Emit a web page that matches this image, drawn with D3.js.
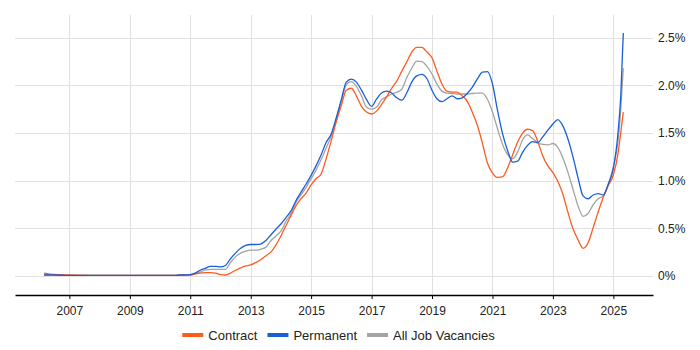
<!DOCTYPE html>
<html>
<head>
<meta charset="utf-8">
<script src="https://cdn.jsdelivr.net/npm/d3@7"></script>
<style>
  html, body { margin: 0; padding: 0; background: #fff; }
  svg { display: block; font-family: Arial, "Liberation Sans", sans-serif; }
</style>
</head>
<body>
<svg id="chart" width="700" height="350"></svg>
<script>
const dates = ["2006-03","2006-07","2007-01","2008-01","2009-01","2010-01",
"2010-07","2010-09","2010-11",
"2011-01","2011-03","2011-05","2011-07","2011-09","2011-11",
"2012-01","2012-03","2012-05","2012-07","2012-09","2012-11",
"2013-01","2013-03","2013-05","2013-07","2013-09","2013-11",
"2014-01","2014-03","2014-05","2014-07","2014-09","2014-11",
"2015-01","2015-03","2015-05","2015-07","2015-09","2015-11",
"2016-01","2016-03","2016-05","2016-07","2016-09","2016-11",
"2017-01","2017-03","2017-05","2017-07","2017-09","2017-11",
"2018-01","2018-03","2018-05","2018-07","2018-09","2018-11",
"2019-01","2019-03","2019-05","2019-07","2019-09","2019-11",
"2020-01","2020-03","2020-05","2020-07","2020-09","2020-11",
"2021-01","2021-03","2021-05","2021-07","2021-09","2021-11",
"2022-01","2022-03","2022-05","2022-07","2022-09","2022-11",
"2023-01","2023-03","2023-05","2023-07","2023-09","2023-11",
"2024-01","2024-03","2024-05","2024-07","2024-09","2024-11",
"2025-01","2025-03","2025-04","2025-05"];

const contract = [0.03,0.015,0.01,0.005,0.005,0.005,
0.005,0.01,0.01,
0.01,0.02,0.03,0.035,0.035,0.03,
0.015,0.01,0.03,0.06,0.085,0.105,
0.115,0.14,0.17,0.21,0.25,0.325,
0.42,0.525,0.63,0.735,0.81,0.87,
0.955,1.02,1.07,1.23,1.42,1.62,
1.79,1.95,1.97,1.89,1.78,1.72,
1.70,1.73,1.80,1.88,1.97,2.045,
2.15,2.245,2.35,2.40,2.40,2.35,
2.29,2.15,2.015,1.94,1.93,1.93,
1.89,1.835,1.72,1.585,1.395,1.185,
1.08,1.035,1.04,1.13,1.27,1.405,
1.50,1.54,1.525,1.415,1.26,1.155,
1.085,0.995,0.86,0.67,0.495,0.38,
0.29,0.345,0.505,0.67,0.825,0.95,
1.06,1.30,1.51,1.72];

const permanent = [0.01,0.01,0.005,0.005,0.005,0.005,
0.005,0.01,0.01,
0.015,0.03,0.06,0.08,0.10,0.10,
0.095,0.11,0.18,0.24,0.29,0.32,
0.33,0.33,0.335,0.37,0.43,0.49,
0.545,0.61,0.68,0.79,0.88,0.965,
1.055,1.155,1.27,1.40,1.49,1.66,
1.85,2.035,2.065,2.035,1.95,1.85,
1.78,1.855,1.92,1.94,1.92,1.87,
1.845,1.92,2.035,2.10,2.115,2.07,
1.95,1.86,1.83,1.86,1.89,1.86,
1.87,1.915,1.98,2.065,2.14,2.145,
2.015,1.745,1.50,1.32,1.195,1.205,
1.30,1.37,1.41,1.40,1.46,1.53,
1.595,1.64,1.575,1.44,1.25,1.03,
0.84,0.81,0.85,0.865,0.85,0.965,
1.13,1.53,1.90,2.55];

const allVacancies = [0.01,0.01,0.005,0.005,0.005,0.005,
0.005,0.01,0.01,
0.01,0.026,0.04,0.06,0.07,0.07,
0.07,0.07,0.14,0.20,0.24,0.26,
0.27,0.27,0.28,0.30,0.37,0.42,
0.47,0.57,0.65,0.77,0.85,0.93,
1.02,1.11,1.22,1.34,1.47,1.64,
1.83,2.01,2.04,1.99,1.89,1.77,
1.75,1.77,1.85,1.88,1.91,1.93,
1.96,2.08,2.18,2.255,2.25,2.20,
2.12,2.015,1.94,1.92,1.915,1.91,
1.91,1.91,1.915,1.92,1.92,1.855,
1.72,1.55,1.385,1.275,1.23,1.30,
1.43,1.48,1.44,1.40,1.38,1.375,
1.39,1.35,1.24,1.09,0.91,0.735,
0.625,0.655,0.745,0.81,0.84,0.965,
1.15,1.43,1.76,2.18];

const yTicks = [0, 0.5, 1.0, 1.5, 2.0, 2.5];
const yTickLabels = ["0%", "0.5%", "1.0%", "1.5%", "2.0%", "2.5%"];
const xTickYears = [2007, 2009, 2011, 2013, 2015, 2017, 2019, 2021, 2023, 2025];
const seriesNames = ["Contract", "Permanent", "All Job Vacancies"];
const seriesColors = ["#ff5a1f", "#1a5fd9", "#a3a3a3"];

const parse = d3.timeParse("%Y-%m");
const svg = d3.select("#chart");
const plotLeft = 15, plotRight = 653, plotTop = 15, plotBottom = 295;

const x = d3.scaleTime()
  .domain([new Date(2005, 2, 15), new Date(2026, 3, 25)])
  .range([plotLeft, plotRight]);
const y = d3.scaleLinear()
  .domain([-0.2, 2.739])
  .range([plotBottom, plotTop]);

// horizontal gridlines
svg.append("g").selectAll("line").data(yTicks).join("line")
  .attr("x1", plotLeft).attr("x2", plotRight)
  .attr("y1", d => Math.round(y(d)) + 0.5).attr("y2", d => Math.round(y(d)) + 0.5)
  .attr("stroke", "#e0e0e0").attr("stroke-width", 1);

// vertical gridlines
const xTickDates = xTickYears.map(yr => new Date(yr, 0, 1));
svg.append("g").selectAll("line").data(xTickDates).join("line")
  .attr("x1", d => Math.round(x(d)) + 0.5).attr("x2", d => Math.round(x(d)) + 0.5)
  .attr("y1", plotTop).attr("y2", plotBottom)
  .attr("stroke", "#e0e0e0").attr("stroke-width", 1);

// y labels (right)
svg.append("g").selectAll("text").data(yTicks).join("text")
  .attr("x", 658).attr("y", d => y(d)).attr("dy", "0.35em")
  .attr("font-size", 12).attr("fill", "#222")
  .text((d, i) => yTickLabels[i]);

// x axis
const xAxis = d3.axisBottom(x).tickValues(xTickDates).tickFormat(d3.timeFormat("%Y"))
  .tickSize(4).tickSizeOuter(0);
const gx = svg.append("g").attr("transform", `translate(0,${plotBottom})`).call(xAxis);
gx.select(".domain").attr("stroke", "#000").attr("stroke-width", 1.5);
gx.selectAll(".tick line").attr("stroke", "#000");
gx.selectAll(".tick text").attr("font-size", 12).attr("fill", "#222")
  .attr("font-family", "Arial, 'Liberation Sans', sans-serif").attr("dy", "1.05em");

// lines
const seriesData = [contract, permanent, allVacancies];
const line = d3.line()
  .x((d, i) => x(parse(dates[i])))
  .y(d => y(d))
  .curve(d3.curveMonotoneX);
const order = [2, 0, 1];
order.forEach(k => {
  svg.append("path")
    .datum(seriesData[k])
    .attr("fill", "none")
    .attr("stroke", seriesColors[k])
    .attr("stroke-width", 1.3)
    .attr("stroke-linejoin", "round")
    .attr("d", line);
});

// legend
const lg = svg.append("g");
let cx = 0;
seriesNames.forEach((name, i) => {
  const g = lg.append("g").attr("transform", `translate(${cx},0)`);
  g.append("rect").attr("x", 0).attr("y", -2).attr("width", 21).attr("height", 4)
    .attr("fill", seriesColors[i]);
  const t = g.append("text").attr("x", 26).attr("y", 0).attr("dy", "0.35em")
    .attr("font-size", 13).attr("fill", "#222").text(name);
  const w = 26 + t.node().getComputedTextLength();
  cx += w + 10;
});
const totalW = cx - 10;
lg.attr("transform", `translate(${338.5 - totalW / 2},335)`);
</script>
</body>
</html>
